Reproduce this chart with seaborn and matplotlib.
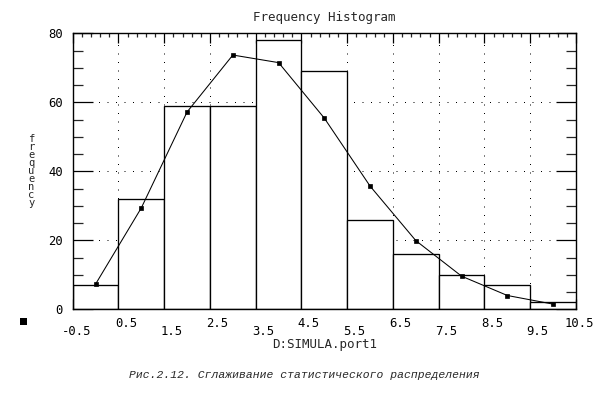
import numpy as np
import pandas as pd
import matplotlib
matplotlib.use("Agg")
import matplotlib.pyplot as plt
import matplotlib.transforms as mtransforms
from matplotlib.patches import Rectangle
from matplotlib.ticker import MultipleLocator
import seaborn as sns

# ---- data ----
bin_centers = [0, 1, 2, 3, 4, 5, 6, 7, 8, 9, 10]
bin_counts = [7, 32, 59, 59, 78, 69, 26, 16, 10, 7, 2]
smooth_values = [7.3, 29.4, 57.2, 73.7, 71.5, 55.4, 35.7, 19.9, 9.6, 4.0, 1.5]
x_tick_values = [-0.5, 0.5, 1.5, 2.5, 3.5, 4.5, 5.5, 6.5, 7.5, 8.5, 9.5, 10.5]
x_tick_labels = ["-0.5", "0.5", "1.5", "2.5", "3.5", "4.5", "5.5", "6.5", "7.5", "8.5", "9.5", "10.5"]
y_tick_values = [0, 20, 40, 60, 80]
y_tick_labels = ["0", "20", "40", "60", "80"]

title = "Frequency Histogram"
x_label = "D:SIMULA.port1"
y_label = "frequency"
caption = "Рис.2.12. Сглаживание статистического распределения"

sns.set_style("white")
plt.rcParams["font.family"] = ["DejaVu Sans Mono", "DejaVu Sans"]

W, H = 609, 393
DPI = 100
fig = plt.figure(figsize=(W / DPI, H / DPI), dpi=DPI, facecolor="white")

left_px, right_px, top_px, bottom_px = 72.7, 576.0, 33.3, 309.3
ax = fig.add_axes([left_px / W, 1 - bottom_px / H,
                   (right_px - left_px) / W, (bottom_px - top_px) / H])

df_hist = pd.DataFrame({"center": bin_centers, "count": bin_counts})
df_line = pd.DataFrame({"x": bin_centers, "y": smooth_values})

edges = [c - 0.5 for c in bin_centers] + [bin_centers[-1] + 0.5]
sns.histplot(data=df_hist, x="center", weights="count", bins=edges,
             color="white", edgecolor="black", linewidth=0.95, alpha=1,
             ax=ax, zorder=1)
sns.lineplot(data=df_line, x="x", y="y", color="black", linewidth=0.75,
             marker="s", markersize=3.2, markeredgewidth=0.5,
             markeredgecolor="black", markerfacecolor="black", ax=ax, zorder=3)

ax.set_xlim(x_tick_values[0], x_tick_values[-1])
ax.set_ylim(y_tick_values[0], y_tick_values[-1])

# grid (dotted)
ax.set_axisbelow(True)
ax.grid(True, which="major", color="black", linewidth=0.72,
        linestyle=(0, (1, 7.5)))

# spines
for s in ax.spines.values():
    s.set_visible(True)
    s.set_color("black")
    s.set_linewidth(1.0)

# ticks
ax.set_xticks(x_tick_values)
ax.set_xticklabels(x_tick_labels)
ax.set_yticks(y_tick_values)
ax.set_yticklabels(y_tick_labels)
ax.xaxis.set_minor_locator(MultipleLocator(0.2, offset=0.1))
ax.yaxis.set_minor_locator(MultipleLocator(5))

ax.tick_params(axis="x", which="major", direction="in", length=7.2, width=0.9,
               top=True, bottom=True, labelsize=8.8, pad=5.3, colors="black")
ax.tick_params(axis="x", which="minor", direction="in", length=3.0, width=0.9,
               top=True, bottom=False)
ax.tick_params(axis="y", which="major", direction="in", length=14.4, width=0.9,
               left=True, right=True, labelsize=8.8, pad=7, colors="black")
ax.tick_params(axis="y", which="minor", direction="in", length=7.2, width=0.9,
               left=True, right=True)

ax.set_xlabel("")
ax.set_ylabel("")

# staggered x tick labels, right aligned with a small offset
offset = mtransforms.ScaledTranslation(18.5 / DPI, 0, fig.dpi_scale_trans)
for i, tick in enumerate(ax.xaxis.get_major_ticks()):
    if i % 2 == 0:
        tick.set_pad(5.3 + 6.3)
    tick.label1.set_horizontalalignment("right")
    tick.label1.set_transform(tick.label1.get_transform() + offset)

ax.set_title(title, fontsize=9, pad=9)
ax.set_xlabel(x_label, fontsize=9)
ax.xaxis.set_label_coords(0.5, -(338 - bottom_px) / (bottom_px - top_px))

# stacked (vertical, upright letters) y-label
fig.text(31.5 / W, 1 - 134 / H, "\n".join(y_label), fontsize=7.5,
         ha="center", va="top", multialignment="center", linespacing=0.75)

# caption
fig.text(304 / W, 1 - 375 / H, caption, family=["Liberation Mono", "DejaVu Sans Mono"],
         style="italic", fontsize=8.2, ha="center", va="center")

# small black square marker at lower-left
fig.patches.append(Rectangle((19.5 / W, 1 - 325 / H), 7 / W, 7 / H,
                             transform=fig.transFigure, facecolor="black",
                             edgecolor="none"))

fig.savefig("out.png", dpi=DPI, facecolor="white")
